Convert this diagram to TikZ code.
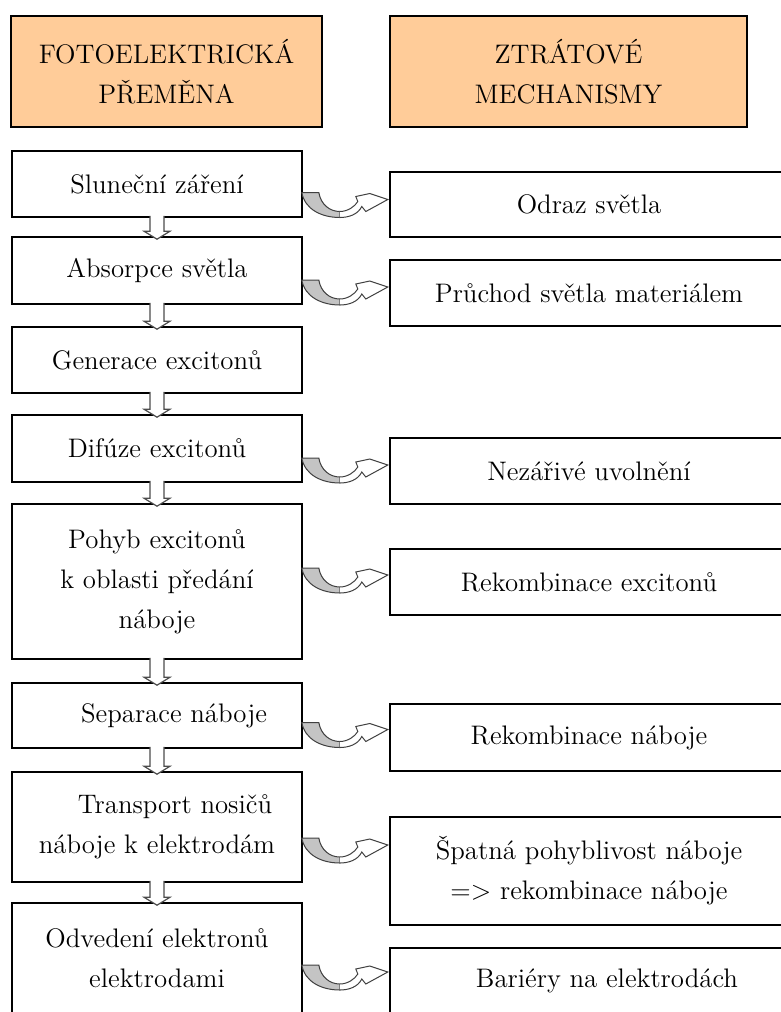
\documentclass[tikz,border=0pt]{standalone}
\usepackage{fontspec}
\usetikzlibrary{calc}
\definecolor{headfill}{HTML}{FFCC99}
\definecolor{shade}{HTML}{C4C4C4}

\begin{document}
\begin{tikzpicture}[x=0.5pt, y=-0.5pt,
        every node/.style={font=\rmfamily\fontsize{13.4}{20}\selectfont, align=center, inner sep=0pt},
        headbox/.style={draw, line width=0.8pt, fill=headfill, minimum height=55.5pt},
        stepbox/.style={draw, line width=0.8pt, fill=white, minimum width=145pt},
        lossbox/.style={draw, line width=0.8pt, fill=white, minimum width=199pt},
        downarrow/.style={draw=black!70, line width=0.6pt, fill=white},
        lossarrow/.pic={
            \filldraw[draw=black!75, line width=0.5pt, fill=shade] (0,0) -- (17,0) .. controls (19,12) and (28,19) .. (38,19) -- (38,25) .. controls (20,25) and (3,17) .. (0,0) -- cycle;
            \filldraw[draw=black!75, line width=0.5pt, fill=white] (38,19) .. controls (46,19) and (53,14) .. (56,9) -- (54,4) -- (68,1) -- (86,7) -- (64,19) -- (60,14) .. controls (56,22) and (47,25) .. (38,25);
        }]
        \useasboundingbox (0,0) rectangle (781,1012);
        \clip (0,0) rectangle (781,1012);

        % headings
        \node[headbox, minimum width=155.5pt] (hl) at (166.5,71.5) {FOTOELEKTRICKÁ\\PŘEMĚNA};
        \node[headbox, minimum width=178.5pt] (hr) at (568.5,71.5) {ZTRÁTOVÉ\\MECHANISMY};

        % left column
        \node[stepbox, minimum height=33pt] (sun) at (157,184) {Sluneční záření};
        \node[stepbox, minimum height=33.5pt] (abs) at (157,270.5) {Absorpce světla};
        \node[stepbox, minimum height=33pt] (gen) at (157,360) {Generace excitonů};
        \node[stepbox, minimum height=33.5pt] (dif) at (157,448.5) {Difúze excitonů};
        \node[stepbox, minimum height=77.5pt] (poh) at (157,581.5) {Pohyb excitonů\\k oblasti předání\\náboje};
        \node[stepbox, minimum height=32.5pt] (sep) at (157,715.5) {\hspace*{17pt}Separace náboje};
        \node[stepbox, minimum height=55pt] (tra) at (157,827) {\hspace*{18pt}Transport nosičů\\náboje k elektrodám};
        \node[stepbox, minimum height=55pt] (odv) at (157,958) {Odvedení elektronů\\elektrodami};

        % right column
        \node[lossbox, minimum height=32.5pt] (odr) at (589,204.5) {Odraz světla};
        \node[lossbox, minimum height=33pt] (pru) at (589,293) {Průchod světla materiálem};
        \node[lossbox, minimum height=33pt] (nez) at (589,471) {Nezářivé uvolnění};
        \node[lossbox, minimum height=33pt] (rex) at (589,582) {Rekombinace excitonů};
        \node[lossbox, minimum height=33.5pt] (rna) at (589,737.5) {Rekombinace náboje};
        \node[lossbox, minimum height=54pt] (spa) at (589,871) {Špatná pohyblivost náboje\\=> rekombinace náboje};
        \node[lossbox, minimum height=33pt] (bar) at (589,981) {\hspace*{18pt}Bariéry na elektrodách};

        % arrows down the left column
        \foreach \a/\b in {sun/abs, abs/gen, gen/dif, dif/poh, poh/sep, sep/tra, tra/odv}
            \draw[downarrow] ($(\a.south)+(-7,-2)$) -- ($(\b.north)+(-7,-5)$) -- ($(\b.north)+(-13,-5)$) -- ($(\b.north)+(0,3)$) -- ($(\b.north)+(13,-5)$) -- ($(\b.north)+(7,-5)$) -- ($(\a.south)+(7,-2)$);

        % curved arrows to the losses
        \foreach \a/\b/\d in {sun/odr/-12, abs/pru/-13, dif/nez/-13, poh/rex/-14, sep/rna/-15, tra/spa/-33, odv/bar/-16}
            \pic at ($(\a.east |- \b.west)+(-1,\d)$) {lossarrow};
\end{tikzpicture}
\end{document}
